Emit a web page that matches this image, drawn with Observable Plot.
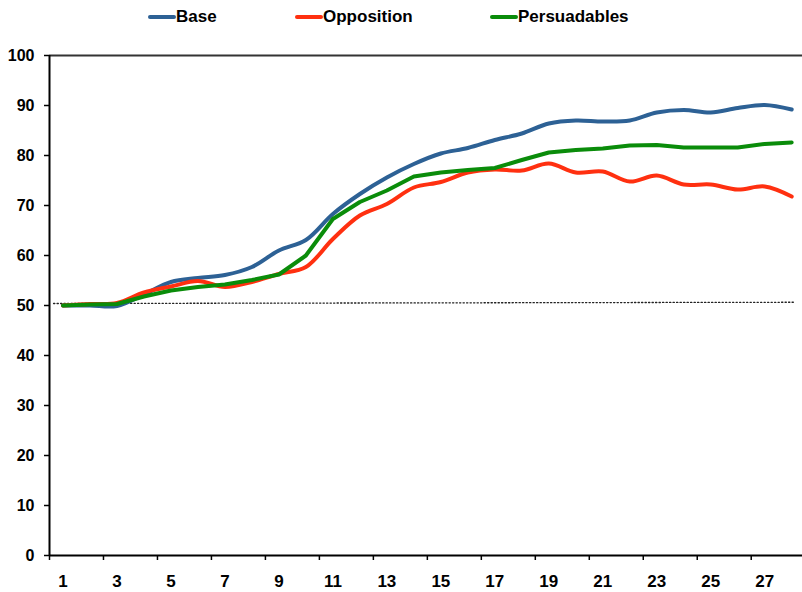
<!DOCTYPE html>
<html>
<head>
<meta charset="utf-8">
<script src="https://cdn.jsdelivr.net/npm/d3@7"></script>
<script src="https://cdn.jsdelivr.net/npm/@observablehq/plot@0.6"></script>
<style>
  html, body { margin: 0; padding: 0; background: #fff; }
  body { width: 802px; height: 592px; overflow: hidden; font-family: "Liberation Sans", Arial, sans-serif; }
  #legend { position: relative; width: 802px; height: 32px; }
  .item { position: absolute; top: 7px; height: 20px; display: flex; align-items: center; font-weight: bold; font-size: 17px; color: #000; }
  .swatch { width: 28px; height: 4px; border-radius: 2px; }
  #chart svg { display: block; }
</style>
</head>
<body>
<div id="legend"></div>
<div id="chart"></div>
<script>
const categories = [1,2,3,4,5,6,7,8,9,10,11,12,13,14,15,16,17,18,19,20,21,22,23,24,25,26,27,28];
const base = [50.0, 50.0, 49.9, 52.2, 54.7, 55.5, 56.1, 57.7, 61.0, 63.1, 68.3, 72.3, 75.6, 78.3, 80.4, 81.5, 83.1, 84.4, 86.4, 87.0, 86.8, 87.0, 88.6, 89.1, 88.6, 89.5, 90.1, 89.2];
const opposition = [50.0, 50.3, 50.5, 52.6, 53.8, 54.9, 53.7, 54.7, 56.3, 57.7, 63.3, 68.0, 70.3, 73.6, 74.7, 76.6, 77.2, 77.0, 78.4, 76.6, 76.8, 74.8, 76.0, 74.2, 74.2, 73.2, 73.8, 71.8];
const persuadables = [50.0, 50.2, 50.3, 51.8, 53.0, 53.7, 54.2, 55.1, 56.2, 60.0, 67.3, 70.7, 73.0, 75.8, 76.6, 77.1, 77.5, 79.1, 80.6, 81.1, 81.4, 82.0, 82.1, 81.6, 81.6, 81.6, 82.3, 82.6];
const refX = [0.65, 28.1];
const refY = [50.4, 50.65];
const yTicks = [0, 10, 20, 30, 40, 50, 60, 70, 80, 90, 100];
const xTickLabels = [1, 3, 5, 7, 9, 11, 13, 15, 17, 19, 21, 23, 25, 27];
const xTickMarks = [0.5, 2.5, 4.5, 6.5, 8.5, 10.5, 12.5, 14.5, 16.5, 18.5, 20.5, 22.5, 24.5, 26.5];
const seriesNames = ["Base", "Opposition", "Persuadables"];
const seriesColors = ["#2d6195", "#ff3010", "#0a8c0a"];

const legendPos = [148, 295, 490];
const legend = document.getElementById("legend");
seriesNames.forEach((n, i) => {
  const it = document.createElement("div");
  it.className = "item";
  it.style.left = legendPos[i] + "px";
  it.innerHTML = `<span class="swatch" style="background:${seriesColors[i]}"></span><span>${n}</span>`;
  legend.appendChild(it);
});

const mk = (vals) => categories.map((c, i) => ({x: c, y: vals[i]}));
const refData = refX.map((x, i) => ({x, y: refY[i]}));

const chart = Plot.plot({
  width: 802,
  height: 560,
  marginLeft: 49,
  marginRight: 0,
  marginTop: 23,
  marginBottom: 37,
  style: {fontFamily: "'Liberation Sans', Arial, sans-serif", color: "#000", background: "#fff"},
  x: {type: "linear", domain: [0.5, 28.4]},
  y: {domain: [0, 100]},
  marks: [
    Plot.ruleY([100], {stroke: "#333", strokeWidth: 2}),
    Plot.line(refData, {x: "x", y: "y", stroke: "#222", strokeWidth: 1.3, strokeDasharray: "1.3,2.2"}),
    Plot.line(mk(base), {x: "x", y: "y", stroke: seriesColors[0], strokeWidth: 4, curve: "catmull-rom"}),
    Plot.line(mk(opposition), {x: "x", y: "y", stroke: seriesColors[1], strokeWidth: 4, curve: "catmull-rom"}),
    Plot.line(mk(persuadables), {x: "x", y: "y", stroke: seriesColors[2], strokeWidth: 4, curve: "linear"}),
    Plot.ruleX([0.5], {stroke: "#000", strokeWidth: 2}),
    Plot.ruleY([0], {stroke: "#000", strokeWidth: 2}),
    Plot.axisY({ticks: yTicks, tickSize: 5, tickPadding: 10, fontSize: 16, fontWeight: "bold", tickFormat: d => String(d), label: null, stroke: "#000", strokeWidth: 1.5}),
    Plot.axisX({ticks: xTickMarks, tickSize: 5, tickFormat: () => "", label: null, stroke: "#000", strokeWidth: 1.5}),
    Plot.axisX({ticks: xTickLabels, tickSize: 0, tickPadding: 19, fontSize: 17, fontWeight: "bold", tickFormat: d => String(d), label: null})
  ]
});
document.getElementById("chart").appendChild(chart);
</script>
</body>
</html>
